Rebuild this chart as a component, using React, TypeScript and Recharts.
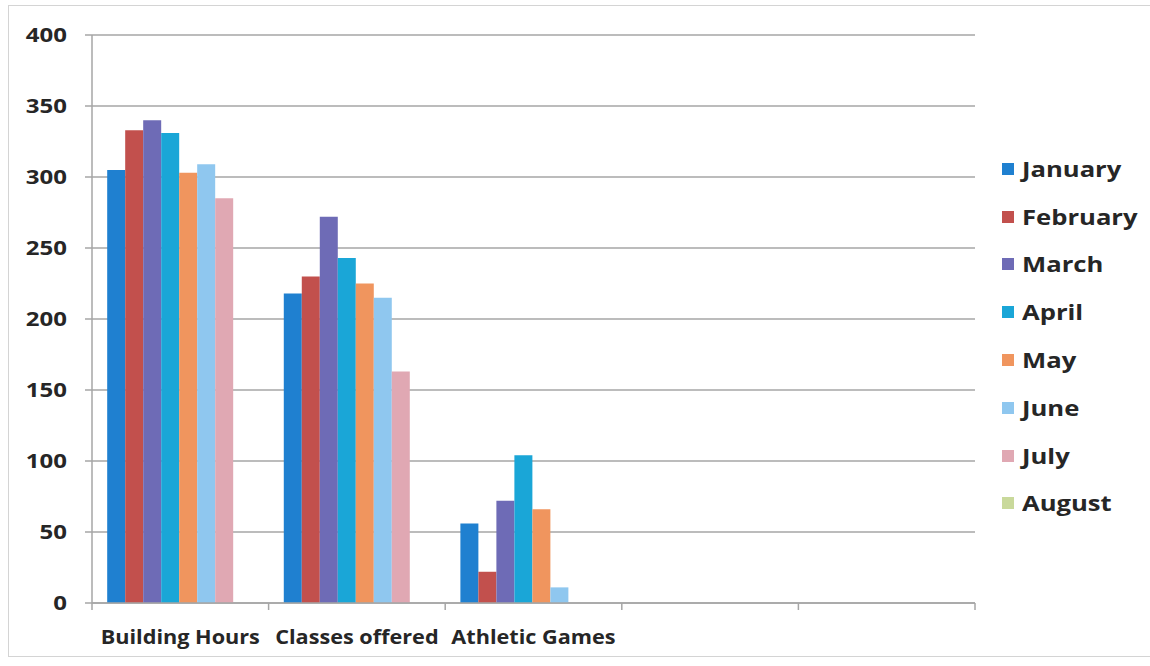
import * as React from "react";
import { Bar, BarChart, CartesianGrid, XAxis, YAxis } from "recharts";

// Monthly activity counts per program, one bar per month.
const categories = ["Building Hours", "Classes offered", "Athletic Games", "", ""];
const months = ["January", "February", "March", "April", "May", "June", "July", "August"];

const january = [305, 218, 56];
const february = [333, 230, 22];
const march = [340, 272, 72];
const april = [331, 243, 104];
const may = [303, 225, 66];
const june = [309, 215, 11];
const july = [285, 163, null];
const august = [null, null, null];

const yTicks = [0, 50, 100, 150, 200, 250, 300, 350, 400];

const colors = ["#1f80d0", "#c2504d", "#6e6bb6", "#1aa6d7", "#f0955e", "#8fc7ef", "#e0a8b3", "#c9d99b"];

const W = 1150;
const H = 666;
const margin = { top: 35, right: 175, left: 0, bottom: 13 };
const yAxisWidth = 92;
const xAxisHeight = 50;
const font = "'Open Sans', 'DejaVu Sans', sans-serif";
const ink = "#262626";
const axisGray = "#a6a6a6";

const series = [january, february, march, april, may, june, july, august];
const data = categories.map((name, i) => {
  const row: Record<string, string | number | null> = { id: `c${i}`, name };
  months.forEach((m, k) => {
    row[m] = series[k][i] ?? null;
  });
  return row;
});

const plotLeft = margin.left + yAxisWidth;
const plotRight = W - margin.right;
const bandW = (plotRight - plotLeft) / categories.length;

// Category label centred in its band, tick marks on the band edges.
function CategoryTick(props: any) {
  const { x, y, index } = props;
  const half = bandW / 2;
  const last = index === categories.length - 1;
  return (
    <g>
      <line x1={x - half} x2={x - half} y1={y - 7} y2={y} stroke={axisGray} strokeWidth={1.5} />
      {last && <line x1={x + half} x2={x + half} y1={y - 7} y2={y} stroke={axisGray} strokeWidth={1.5} />}
      <text
        transform={`translate(${x},${y + 34}) scale(1.14,1)`}
        textAnchor="middle"
        fill={ink}
        style={{ fontFamily: font, fontSize: 19, fontWeight: 700 }}
      >
        {categories[index]}
      </text>
    </g>
  );
}

function ValueTick(props: any) {
  const { x, y, payload } = props;
  return (
    <text
      transform={`translate(${x},${y}) scale(1.2,1)`}
      dy="0.36em"
      textAnchor="end"
      fill={ink}
      style={{ fontFamily: font, fontSize: 20, fontWeight: 700 }}
    >
      {payload.value}
    </text>
  );
}

function MonthLegend() {
  return (
    <div style={{ position: "absolute", left: 1002, top: 145, fontFamily: font, fontWeight: 700, fontSize: 20.5, color: ink }}>
      {months.map((m, i) => (
        <div key={m} style={{ display: "flex", alignItems: "center", height: 47.8 }}>
          <span style={{ width: 12, height: 12, background: colors[i], marginRight: 8, display: "inline-block" }} />
          <span style={{ lineHeight: "28px", display: "inline-block", transform: "scaleX(1.25)", transformOrigin: "left center" }}>{m}</span>
        </div>
      ))}
    </div>
  );
}

export default function App() {
  return (
    <div style={{ position: "absolute", left: 0, top: 0, width: W, height: H, background: "#fff", overflow: "hidden" }}>
      <div
        style={{
          position: "absolute",
          left: 8,
          top: 5,
          width: W,
          height: 652,
          border: "1.5px solid #d4d4d4",
          boxSizing: "border-box",
        }}
      />
      <BarChart width={W} height={H} data={data} margin={margin} barCategoryGap="8.6%" barGap={0}>
        <CartesianGrid vertical={false} stroke={axisGray} strokeWidth={1.5} />
        <XAxis
          dataKey="id"
          height={xAxisHeight}
          interval={0}
          tickSize={7}
          tickMargin={0}
          tickLine={false}
          axisLine={{ stroke: axisGray, strokeWidth: 1.5 }}
          tick={<CategoryTick />}
        />
        <YAxis
          width={yAxisWidth}
          domain={[0, 400]}
          ticks={yTicks}
          interval={0}
          tickSize={7}
          tickMargin={18}
          axisLine={{ stroke: axisGray, strokeWidth: 1.5 }}
          tickLine={{ stroke: axisGray, strokeWidth: 1.5 }}
          tick={<ValueTick />}
        />
        {months.map((m, i) => (
          <Bar key={m} dataKey={m} fill={colors[i]} isAnimationActive={false} />
        ))}
      </BarChart>
      <MonthLegend />
    </div>
  );
}
